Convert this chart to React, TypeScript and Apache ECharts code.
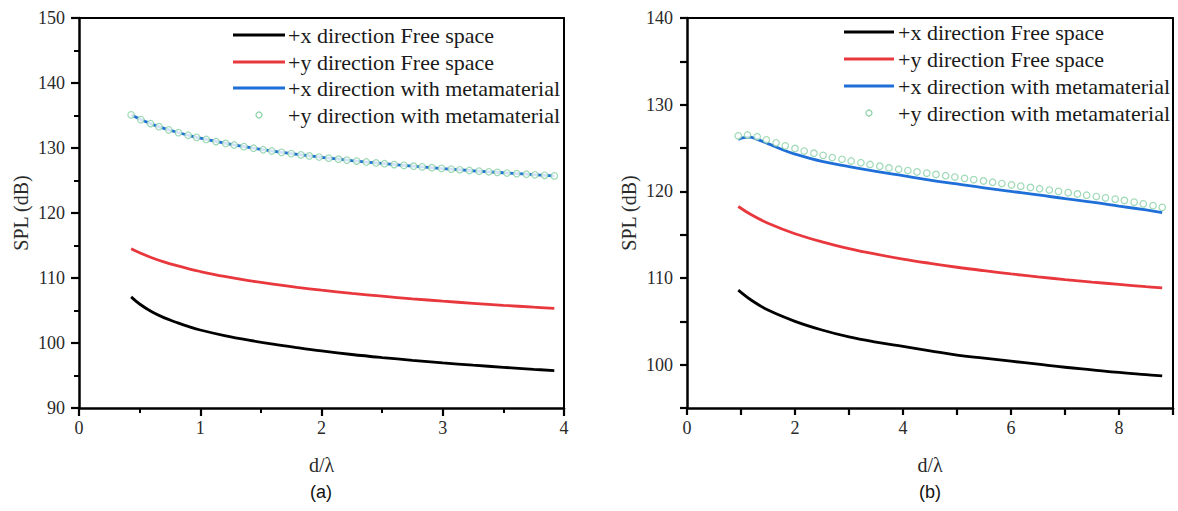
import React, { useEffect, useRef } from "react";
import * as echarts from "echarts";

// ---------- Panel (a) ----------
const aLineX = [0.43, 0.5, 0.6, 0.7, 0.8, 0.9, 1.0, 1.2, 1.4, 1.6, 1.8, 2.0, 2.25, 2.5, 2.75, 3.0, 3.25, 3.5, 3.75, 3.92];
const aXFree = [107.1, 106.0, 104.8, 103.9, 103.2, 102.55, 102.0, 101.14, 100.43, 99.82, 99.28, 98.78, 98.23, 97.76, 97.34, 96.95, 96.59, 96.26, 95.95, 95.75];
const aYFree = [114.5, 113.88, 113.12, 112.48, 111.93, 111.44, 111.0, 110.24, 109.6, 109.05, 108.56, 108.12, 107.63, 107.2, 106.8, 106.44, 106.11, 105.8, 105.51, 105.33];
const aXMeta = [135.1, 134.46, 133.68, 133.03, 132.46, 131.96, 131.51, 130.74, 130.08, 129.52, 129.01, 128.57, 128.07, 127.62, 127.21, 126.84, 126.5, 126.19, 125.9, 125.71];
const aDotX = [0.43, 0.51, 0.59, 0.66, 0.74, 0.82, 0.90, 0.97, 1.05, 1.13, 1.21, 1.28, 1.36, 1.44, 1.52, 1.59, 1.67, 1.75, 1.83, 1.90, 1.98, 2.06, 2.14, 2.21, 2.29, 2.37, 2.45, 2.52, 2.60, 2.68, 2.76, 2.83, 2.91, 2.99, 3.07, 3.14, 3.22, 3.30, 3.38, 3.45, 3.53, 3.61, 3.69, 3.76, 3.84, 3.92];
const aYMeta = [135.1, 134.37, 133.76, 133.28, 132.79, 132.36, 131.96, 131.64, 131.31, 130.99, 130.7, 130.46, 130.21, 129.96, 129.73, 129.54, 129.33, 129.13, 128.94, 128.78, 128.61, 128.44, 128.28, 128.14, 127.99, 127.85, 127.7, 127.58, 127.45, 127.32, 127.2, 127.09, 126.97, 126.86, 126.75, 126.65, 126.54, 126.44, 126.34, 126.25, 126.15, 126.06, 125.96, 125.88, 125.8, 125.71];

// ---------- Panel (b) ----------
const bLineX = [0.95, 1.2, 1.5, 2.0, 2.5, 3.0, 3.5, 4.0, 4.5, 5.0, 5.5, 6.0, 6.5, 7.0, 7.5, 8.0, 8.5, 8.8];
const bXFree = [108.6, 107.4, 106.3, 105.0, 104.0, 103.2, 102.6, 102.1, 101.6, 101.1, 100.75, 100.4, 100.05, 99.7, 99.4, 99.1, 98.85, 98.7];
const bYFree = [118.25, 117.26, 116.32, 115.11, 114.17, 113.4, 112.75, 112.18, 111.69, 111.24, 110.84, 110.47, 110.13, 109.82, 109.53, 109.26, 109.0, 108.86];
const bMetaX = [0.95, 1.05, 1.15, 1.3, 1.5, 1.75, 2.0, 2.5, 3.0, 3.5, 4.0, 4.5, 5.0, 5.5, 6.0, 6.5, 7.0, 7.5, 8.0, 8.5, 8.8];
const bXMeta = [126.0, 126.2, 126.25, 126.0, 125.5, 124.85, 124.3, 123.45, 122.85, 122.3, 121.8, 121.3, 120.85, 120.4, 120.0, 119.6, 119.15, 118.75, 118.3, 117.85, 117.55];
const bDotX = [0.95, 1.12, 1.30, 1.47, 1.65, 1.82, 2.00, 2.17, 2.35, 2.52, 2.69, 2.87, 3.04, 3.22, 3.39, 3.57, 3.74, 3.92, 4.09, 4.26, 4.44, 4.61, 4.79, 4.96, 5.14, 5.31, 5.49, 5.66, 5.83, 6.01, 6.18, 6.36, 6.53, 6.71, 6.88, 7.06, 7.23, 7.40, 7.58, 7.75, 7.93, 8.10, 8.28, 8.45, 8.63, 8.80];
const bYMeta = [126.4, 126.5, 126.3, 125.95, 125.6, 125.25, 124.95, 124.65, 124.4, 124.15, 123.9, 123.7, 123.5, 123.3, 123.1, 122.9, 122.7, 122.55, 122.4, 122.25, 122.1, 121.95, 121.8, 121.65, 121.5, 121.35, 121.2, 121.05, 120.9, 120.75, 120.6, 120.45, 120.3, 120.15, 120.0, 119.85, 119.7, 119.55, 119.4, 119.25, 119.1, 118.95, 118.75, 118.55, 118.35, 118.15];

const seriesNames = [
  "+x direction Free space",
  "+y direction Free space",
  "+x direction with metamaterial",
  "+y direction with metamaterial",
];
const panelLabels = ["(a)", "(b)"];
const xName = "d/λ";
const yName = "SPL (dB)";

const BLACK = "#000000";
const RED = "#e8383d";
const BLUE = "#1f6fd8";
const GREEN = "#86d0a2";
const SERIF = "'Liberation Serif', 'Times New Roman', serif";
const SANS = "'Liberation Sans', Arial, sans-serif";

const zip = (xs: number[], ys: number[]) => xs.map((x, i) => [x, ys[i]]);

export default function App() {
  const ref = useRef<HTMLDivElement>(null);
  useEffect(() => {
    if (!ref.current) return;
    const chart = echarts.init(ref.current, undefined, { renderer: "svg" });

    const grids = [
      { left: 79, top: 18, width: 485, height: 390 },
      { left: 687, top: 18, width: 486, height: 390 },
    ];

    const axisLabel = { color: "#2a2a2a", fontFamily: SERIF, fontSize: 18 };
    const nameStyle = { color: "#2a2a2a", fontFamily: SERIF, fontSize: 20 };
    const mkLine = () => ({ show: true, onZero: false, lineStyle: { color: "#000", width: 2.5 } });
    const mkTick = (len: number) => ({ show: true, length: len, lineStyle: { color: "#000", width: 2.2 } });
    const mkMinor = () => ({ show: true, splitNumber: 2, length: 5, lineStyle: { color: "#000", width: 2 } });
    const frameLine = { show: true, onZero: false, lineStyle: { color: "#000", width: 2 } };

    const xAxes: any[] = [
      {
        gridIndex: 0, type: "value", position: "bottom", min: 0, max: 4, interval: 1,
        axisLine: mkLine(), axisLabel: { ...axisLabel, margin: 11 },
        axisTick: mkTick(8), minorTick: mkMinor(),
        splitLine: { show: false },
        name: xName, nameLocation: "middle", nameGap: 47, nameTextStyle: nameStyle,
      },
      {
        gridIndex: 1, type: "value", position: "bottom", min: 0, max: 9, interval: 1,
        axisLine: mkLine(),
        axisLabel: { ...axisLabel, margin: 11, formatter: (v: number) => (v % 2 === 0 && v < 9 ? String(v) : "") },
        axisTick: mkTick(7),
        splitLine: { show: false },
        name: xName, nameLocation: "middle", nameGap: 47, nameTextStyle: nameStyle,
      },
      {
        gridIndex: 0, type: "value", position: "top", min: 0, max: 4,
        axisLine: frameLine, axisTick: { show: false }, axisLabel: { show: false }, splitLine: { show: false },
      },
      {
        gridIndex: 1, type: "value", position: "top", min: 0, max: 9,
        axisLine: frameLine, axisTick: { show: false }, axisLabel: { show: false }, splitLine: { show: false },
      },
    ];
    const yAxes: any[] = [
      {
        gridIndex: 0, type: "value", position: "left", min: 90, max: 150, interval: 10,
        axisLine: mkLine(), axisLabel: { ...axisLabel, margin: 14 },
        axisTick: mkTick(8), minorTick: mkMinor(),
        splitLine: { show: false },
        name: yName, nameLocation: "middle", nameGap: 48, nameTextStyle: nameStyle,
      },
      {
        gridIndex: 1, type: "value", position: "left", min: 95, max: 140, interval: 5,
        axisLine: mkLine(),
        axisLabel: { ...axisLabel, margin: 14, formatter: (v: number) => (v % 10 === 0 ? String(v) : "") },
        axisTick: mkTick(7),
        splitLine: { show: false },
        name: yName, nameLocation: "middle", nameGap: 48, nameTextStyle: nameStyle,
      },
      {
        gridIndex: 0, type: "value", position: "right", min: 90, max: 150,
        axisLine: frameLine, axisTick: { show: false }, axisLabel: { show: false }, splitLine: { show: false },
      },
      {
        gridIndex: 1, type: "value", position: "right", min: 95, max: 140,
        axisLine: frameLine, axisTick: { show: false }, axisLabel: { show: false }, splitLine: { show: false },
      },
    ];

    const lineSeries = (name: string, idx: number, xs: number[], ys: number[], color: string) => ({
      name, type: "line", xAxisIndex: idx, yAxisIndex: idx,
      data: zip(xs, ys), showSymbol: false, symbol: "none", smooth: 0.4,
      lineStyle: { color, width: 2.8 }, itemStyle: { color }, z: 2,
    });
    const dotSeries = (name: string, idx: number, xs: number[], ys: number[]) => ({
      name, type: "scatter", xAxisIndex: idx, yAxisIndex: idx,
      data: zip(xs, ys), symbol: "circle", symbolSize: 6.5,
      itemStyle: { color: "#ffffff", borderColor: GREEN, borderWidth: 1.2 }, z: 3,
    });

    const series = [
      lineSeries(seriesNames[0], 0, aLineX, aXFree, BLACK),
      lineSeries(seriesNames[1], 0, aLineX, aYFree, RED),
      lineSeries(seriesNames[2], 0, aLineX, aXMeta, BLUE),
      dotSeries(seriesNames[3], 0, aDotX, aYMeta),
      lineSeries(seriesNames[0], 1, bLineX, bXFree, BLACK),
      lineSeries(seriesNames[1], 1, bLineX, bYFree, RED),
      lineSeries(seriesNames[2], 1, bMetaX, bXMeta, BLUE),
      dotSeries(seriesNames[3], 1, bDotX, bYMeta),
    ];

    const legendColors = [BLACK, RED, BLUE];
    const legendGraphic = (lx1: number, lx2: number, tx: number, rows: number[]) => {
      const els: any[] = [];
      rows.forEach((y, i) => {
        if (i < 3) {
          els.push({ type: "line", shape: { x1: lx1, y1: y, x2: lx2, y2: y }, style: { stroke: legendColors[i], lineWidth: 3 } });
        } else {
          els.push({ type: "circle", shape: { cx: (lx1 + lx2) / 2, cy: y, r: 3 }, style: { fill: "#fff", stroke: GREEN, lineWidth: 1.2 } });
        }
        els.push({
          type: "text", x: tx, y,
          style: { text: seriesNames[i], fill: "#1a1a1a", font: `22px ${SERIF}`, verticalAlign: "middle", align: "left" },
        });
      });
      return els;
    };

    chart.setOption({
      animation: false,
      backgroundColor: "#ffffff",
      grid: grids.map((g) => ({ ...g, show: false })),
      xAxis: xAxes,
      yAxis: yAxes,
      series,
      graphic: [
        ...legendGraphic(233, 285, 288, [35, 62, 88, 115]),
        ...legendGraphic(844, 894, 898, [32, 59, 86, 113]),
        { type: "text", x: 321, y: 492, style: { text: panelLabels[0], fill: "#111", font: `18px ${SANS}`, align: "center", verticalAlign: "middle" } },
        { type: "text", x: 930, y: 492, style: { text: panelLabels[1], fill: "#111", font: `18px ${SANS}`, align: "center", verticalAlign: "middle" } },
      ],
    });
    return () => chart.dispose();
  }, []);
  return <div ref={ref} style={{ position: "absolute", left: 0, top: 0, width: 1178, height: 511, background: "#fff" }} />;
}
